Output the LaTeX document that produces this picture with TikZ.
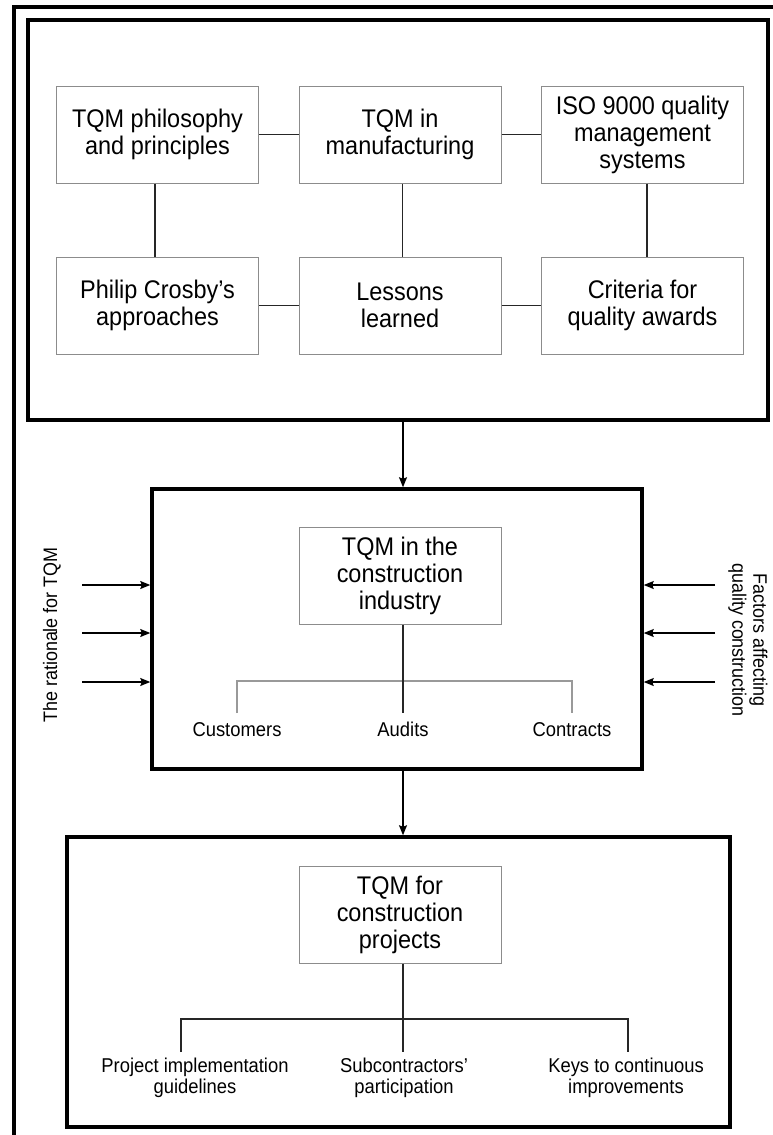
\documentclass[tikz,border=0pt]{standalone}
\usepackage{fontspec}
\setmainfont{Liberation Sans}[FakeStretch=0.92]
\usetikzlibrary{arrows.meta}

\tikzset{
  frame/.style={draw, line width=3.5pt, inner sep=0pt},
  topic/.style={draw=black!45, line width=1pt, minimum width=202pt, minimum height=97pt,
                align=center, inner sep=0pt, font=\fontsize{25.5}{27}\selectfont},
  leaf/.style={align=center, inner sep=0pt, anchor=north, font=\fontsize{20}{20.5}\selectfont},
  side/.style={align=center, inner sep=0pt, font=\fontsize{19.5}{21}\selectfont},
  link/.style={line width=1.2pt, black!85},
  glink/.style={line width=1.2pt, black!40},
  arr/.style={line width=1.2pt, -{Stealth[length=10pt,width=8pt,inset=1.5pt]}},
}

\begin{document}
\begin{tikzpicture}[x=1pt,y=-1pt]
\useasboundingbox (0,0) rectangle (773,1135);

% outer page frame (top and left edges)
\draw[line width=4pt] (14,1140) -- (14,7) -- (780,7);

% ---------- upper block: background topics ----------
\node[frame, minimum width=740pt, minimum height=400pt] (F1) at (398,220) {};

\node[topic] (a1) at (157.5,134.5) {TQM philosophy\\and principles};
\node[topic] (a2) at (400,134.5) {TQM in\\manufacturing};
\node[topic] (a3) at (642.5,134.5) {ISO 9000 quality\\management\\systems};
\node[topic] (b1) at (157.5,305.5) {Philip Crosby’s\\approaches};
\node[topic] (b2) at (400,305.5) {Lessons\\learned};
\node[topic] (b3) at (642.5,305.5) {Criteria for\\quality awards};

\draw[link] (a1) -- (a2);
\draw[link] (a2) -- (a3);
\draw[link] (b1) -- (b2);
\draw[link] (b2) -- (b3);
\draw[link] ([xshift=-2.5pt]a1.south) -- ([xshift=-2.5pt]b1.north);
\draw[link] ([xshift=2.5pt]a2.south) -- ([xshift=2.5pt]b2.north);
\draw[link] ([xshift=4.5pt]a3.south) -- ([xshift=4.5pt]b3.north);

% ---------- middle block: construction industry ----------
\node[frame, minimum width=490pt, minimum height=280pt] (F2) at (397,629) {};
\draw[arr] ([xshift=3pt]a2 |- F1.south) -- ([xshift=3pt]a2 |- F2.north);

\node[topic] (t2) at (400,575.5) {TQM in the\\construction\\industry};
\node[leaf] (cust) at (237,722) {Customers};
\node[leaf] (aud) at (403,722) {Audits};
\node[leaf] (cont) at (572,722) {Contracts};

\coordinate (j2) at (400,681);
\draw[glink] ([yshift=9pt]cust.north) -- (cust.north |- j2) -- (cont.north |- j2) -- ([yshift=9pt]cont.north);
\draw[link] ([xshift=3pt]t2.south) -- ([xshift=3pt,yshift=9pt]t2.south |- aud.north);

% inputs from both sides
\foreach \k/\yy in {1/585,2/633,3/682}{
  \coordinate (L\k) at (82,\yy);
  \coordinate (R\k) at (715,\yy);
  \draw[arr] (L\k) -- (L\k -| F2.west);
  \draw[arr] (R\k) -- (R\k -| F2.east);
}
\node[side, rotate=90] (rat) at (52,635) {The rationale for TQM};
\node[side, rotate=-90] (fac) at (748,640) {Factors affecting\\quality construction};

% ---------- lower block: construction projects ----------
\node[frame, minimum width=663pt, minimum height=290pt] (F3) at (398.5,982) {};
\draw[arr] ([xshift=3pt]t2 |- F2.south) -- ([xshift=3pt]t2 |- F3.north);

\node[topic] (t3) at (400,914.5) {TQM for\\construction\\projects};
\node[leaf] (p1) at (195,1058) {Project implementation\\guidelines};
\node[leaf] (p2) at (404,1058) {Subcontractors’\\participation};
\node[leaf] (p3) at (626,1058) {Keys to continuous\\improvements};

\coordinate (j3) at (400,1019);
\draw[link] ([xshift=-14pt,yshift=6pt]p1.north) -- ([xshift=-14pt]p1.north |- j3) -- ([xshift=2pt]p3.north |- j3) -- ([xshift=2pt,yshift=6pt]p3.north);
\draw[link] ([xshift=3pt]t3.south) -- ([xshift=3pt,yshift=6pt]t3.south |- p2.north);
\end{tikzpicture}
\end{document}
